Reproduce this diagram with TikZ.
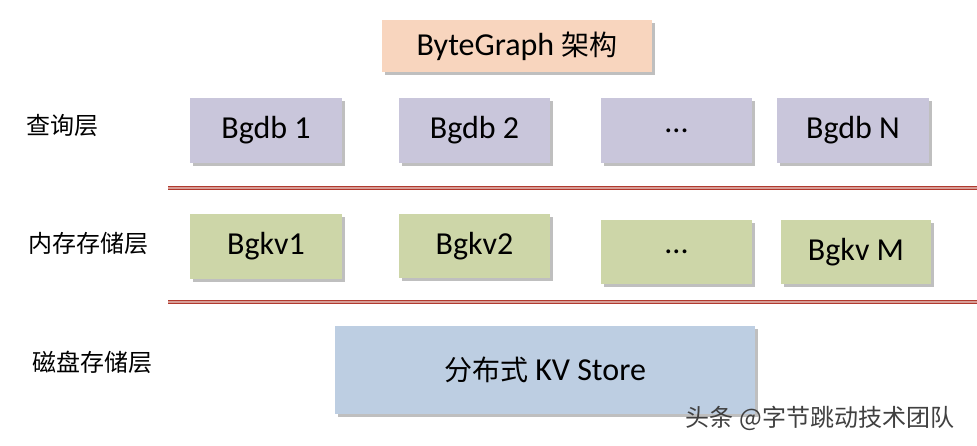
\documentclass[tikz,border=0pt]{standalone}
\usepackage{fontspec}
\setmainfont{Carlito}
\newfontfamily\cjk{Noto Sans CJK SC}
\usetikzlibrary{shadows}
\definecolor{lav}{HTML}{C9C6DB}
\definecolor{grn}{HTML}{CDD6A8}
\definecolor{blu}{HTML}{BDCEE2}
\definecolor{pch}{HTML}{F8D5BE}
\definecolor{rl}{HTML}{B03A2E}
\begin{document}
\begin{tikzpicture}[x=1pt,y=-1pt,
  bx/.style={draw=none,drop shadow={shadow xshift=3pt,shadow yshift=-3pt,opacity=0.5,fill=gray},font=\fontsize{32}{36}\selectfont,inner sep=0},
  lbl/.style={font=\cjk\fontsize{24}{28}\selectfont},
  sep/.style={draw=rl,line width=4pt}]
\useasboundingbox (0,0) rectangle (977,446);
\fill[white] (0,0) rectangle (977,446);
\newcommand\bx[6]{\node[bx,fill=#5,minimum width=#3-#1,minimum height=#4-#2] (#6) at ({(#1+#3)/2},{(#2+#4)/2})}
\bx{382}{20}{652}{72}{pch}{t} {ByteGraph {\cjk\fontsize{28}{32}\selectfont 架构}};
\bx{190}{98}{342}{163}{lav}{a1} {Bgdb 1};
\bx{399}{98}{550}{163}{lav}{a2} {Bgdb 2};
\bx{601}{98}{752}{163}{lav}{a3} {...};
\bx{777}{98}{929}{163}{lav}{a4} {Bgdb N};
\bx{190}{214}{342}{279}{grn}{b1} {Bgkv1};
\bx{399}{214}{550}{278}{grn}{b2} {Bgkv2};
\bx{601}{220}{752}{284}{grn}{b3} {...};
\bx{781}{220}{931}{284}{grn}{b4} {Bgkv M};
\bx{335}{326}{755}{414}{blu}{c} {{\cjk\fontsize{28}{32}\selectfont 分布式} KV Store};
\coordinate (l1a) at (168,188); \coordinate (l1b) at (977,188);
\coordinate (l2a) at (168,302); \coordinate (l2b) at (977,302);
\draw[sep] (l1a) -- (l1b); \draw[white!50!rl,line width=1.2pt] (l1a) -- (l1b);
\draw[sep] (l2a) -- (l2b); \draw[white!50!rl,line width=1.2pt] (l2a) -- (l2b);
\node[lbl] (q) at (62,125) {查询层};
\node[lbl] (m) at (88,243) {内存存储层};
\node[lbl] (d) at (92,362) {磁盘存储层};
\node[font=\cjk\fontsize{24}{28}\selectfont,text=black!75] (w) at (820,418) {头条 @字节跳动技术团队};
\end{tikzpicture}
\end{document}
